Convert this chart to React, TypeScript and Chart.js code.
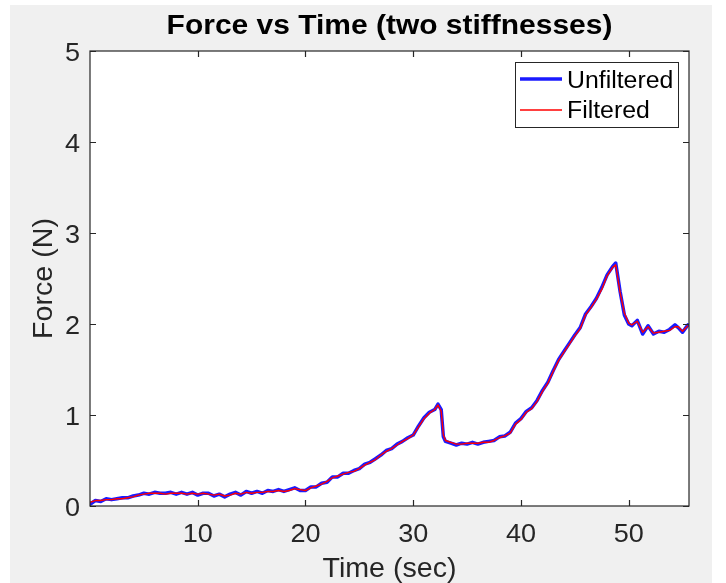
import React, { useEffect, useRef } from "react";
import { Chart, registerables } from "chart.js";

Chart.register(...registerables);

// Sample times (s) and measured force (N)
const timeSec = [
  0, 0.5, 1, 1.5, 2, 2.5, 3, 3.5, 4, 4.5,
  5, 5.5, 6, 6.5, 7, 7.5, 8, 8.5, 9, 9.5,
  10, 10.5, 11, 11.5, 12, 12.5, 13, 13.5, 14, 14.5,
  15, 15.5, 16, 16.5, 17, 17.5, 18, 18.5, 19, 19.5,
  20, 20.5, 21, 21.5, 22, 22.5, 23, 23.5, 24, 24.5,
  25, 25.5, 26, 26.5, 27, 27.5, 28, 28.5, 29, 29.5,
  30, 30.5, 31, 31.5, 32, 32.3, 32.6, 32.8, 33, 33.5,
  34, 34.5, 35, 35.5, 36, 36.5, 37, 37.5, 38, 38.5,
  39, 39.5, 40, 40.5, 41, 41.5, 42, 42.5, 43, 43.5,
  44, 44.5, 45, 45.5, 46, 46.5, 47, 47.5, 48, 48.5,
  48.8, 49.2, 49.6, 50, 50.3, 50.8, 51.3, 51.8, 52.3, 52.8,
  53.3, 53.8, 54.3, 54.6, 55, 55.5,
];

const unfilteredN = [
  0.02, 0.06, 0.05, 0.08, 0.07, 0.08, 0.09, 0.09, 0.11, 0.12,
  0.14, 0.13, 0.15, 0.14, 0.14, 0.15, 0.13, 0.15, 0.13, 0.15,
  0.12, 0.14, 0.14, 0.11, 0.13, 0.10, 0.13, 0.15, 0.12, 0.16,
  0.14, 0.16, 0.14, 0.17, 0.16, 0.18, 0.16, 0.18, 0.20, 0.17,
  0.17, 0.21, 0.21, 0.25, 0.26, 0.32, 0.32, 0.36, 0.36, 0.39,
  0.41, 0.46, 0.48, 0.52, 0.56, 0.61, 0.63, 0.68, 0.71, 0.75,
  0.78, 0.88, 0.97, 1.03, 1.06, 1.12, 1.06, 0.76, 0.71, 0.69,
  0.67, 0.69, 0.68, 0.70, 0.68, 0.70, 0.71, 0.72, 0.76, 0.77,
  0.81, 0.91, 0.96, 1.04, 1.08, 1.16, 1.27, 1.36, 1.49, 1.61,
  1.70, 1.79, 1.88, 1.96, 2.11, 2.19, 2.28, 2.40, 2.54, 2.63,
  2.67, 2.36, 2.10, 2.00, 1.98, 2.04, 1.89, 1.98, 1.89, 1.92,
  1.91, 1.94, 1.99, 1.96, 1.91, 1.99,
];

const filteredN = [
  0.04, 0.06, 0.06, 0.07, 0.07, 0.08, 0.08, 0.09, 0.10, 0.12,
  0.13, 0.14, 0.14, 0.14, 0.13, 0.14, 0.14, 0.14, 0.13, 0.14,
  0.13, 0.14, 0.13, 0.12, 0.13, 0.11, 0.12, 0.14, 0.13, 0.15,
  0.14, 0.15, 0.15, 0.16, 0.16, 0.17, 0.16, 0.17, 0.19, 0.18,
  0.17, 0.20, 0.22, 0.24, 0.27, 0.31, 0.33, 0.35, 0.37, 0.38,
  0.41, 0.45, 0.48, 0.51, 0.56, 0.60, 0.63, 0.67, 0.71, 0.74,
  0.78, 0.87, 0.96, 1.02, 1.06, 1.11, 1.04, 0.78, 0.72, 0.70,
  0.68, 0.68, 0.69, 0.69, 0.69, 0.70, 0.70, 0.72, 0.75, 0.77,
  0.80, 0.90, 0.95, 1.03, 1.07, 1.15, 1.26, 1.35, 1.48, 1.60,
  1.69, 1.78, 1.87, 1.95, 2.10, 2.18, 2.27, 2.38, 2.53, 2.62,
  2.65, 2.35, 2.12, 2.01, 1.99, 2.03, 1.91, 1.97, 1.90, 1.91,
  1.92, 1.93, 1.97, 1.97, 1.92, 1.98,
];

const xTickValues = [10, 20, 30, 40, 50];
const yTickValues = [0, 1, 2, 3, 4, 5];
const xRange = [0, 55.6];
const yRange = [0, 5];

const titleText = "Force vs Time (two stiffnesses)";
const xLabel = "Time (sec)";
const yLabel = "Force (N)";
const seriesNames = ["Unfiltered", "Filtered"];
const seriesColors = ["#1a1aff", "#ff0000"];
const seriesWidths = [3.5, 1.4];

const W = 726;
const H = 583;
const FONT = '"Liberation Sans", Arial, Helvetica, sans-serif';
const INK = "#262626";
const FIG_BG = "#f0f0f0";

function drawText(
  ctx: CanvasRenderingContext2D,
  text: string,
  x: number,
  y: number,
  font: string,
  sx: number,
  align: CanvasTextAlign,
  color: string,
  rotate = 0
) {
  ctx.save();
  ctx.translate(x, y);
  if (rotate) ctx.rotate(rotate);
  ctx.scale(sx, 1);
  ctx.font = font;
  ctx.textAlign = align;
  ctx.textBaseline = "alphabetic";
  ctx.fillStyle = color;
  ctx.fillText(text, 0, 0);
  ctx.restore();
}

const backdrop = {
  id: "backdrop",
  beforeDraw(chart: any) {
    const { ctx, chartArea: a } = chart;
    ctx.save();
    ctx.fillStyle = "#ffffff";
    ctx.fillRect(0, 0, W, H);
    ctx.fillStyle = FIG_BG;
    ctx.fillRect(10, 5, 702, H - 5);
    ctx.fillStyle = "#ffffff";
    ctx.fillRect(a.left, a.top, a.right - a.left, a.bottom - a.top);
    ctx.restore();
  },
};

const frame = {
  id: "frame",
  afterDatasetsDraw(chart: any) {
    const { ctx, chartArea: a, scales } = chart;
    const xs = scales.x;
    const ys = scales.y;
    const tick = 6;

    ctx.save();
    ctx.strokeStyle = INK;
    ctx.lineWidth = 1.2;
    ctx.strokeRect(a.left, a.top, a.right - a.left, a.bottom - a.top);

    ctx.beginPath();
    xTickValues.forEach((v) => {
      const px = Math.round(xs.getPixelForValue(v)) + 0.5;
      ctx.moveTo(px, a.bottom);
      ctx.lineTo(px, a.bottom - tick);
      ctx.moveTo(px, a.top);
      ctx.lineTo(px, a.top + tick);
    });
    yTickValues.forEach((v) => {
      const py = Math.round(ys.getPixelForValue(v)) + 0.5;
      ctx.moveTo(a.left, py);
      ctx.lineTo(a.left + tick, py);
      ctx.moveTo(a.right, py);
      ctx.lineTo(a.right - tick, py);
    });
    ctx.stroke();
    ctx.restore();

    const tickFont = `26px ${FONT}`;
    xTickValues.forEach((v) => {
      drawText(ctx, String(v), xs.getPixelForValue(v), 542, tickFont, 1.04, "center", INK);
    });
    yTickValues.forEach((v) => {
      drawText(ctx, String(v), 80, ys.getPixelForValue(v) + 9.5, tickFont, 1.04, "right", INK);
    });

    const cx = (a.left + a.right) / 2;
    drawText(ctx, titleText, cx, 34, `bold 27px ${FONT}`, 1.11, "center", "#000000");
    drawText(ctx, xLabel, cx, 577, `27px ${FONT}`, 1.06, "center", INK);
    drawText(ctx, yLabel, 52, (a.top + a.bottom) / 2, `27px ${FONT}`, 1.06, "center", INK, -Math.PI / 2);

    // legend box
    ctx.save();
    ctx.fillStyle = "#ffffff";
    ctx.fillRect(515, 62, 163, 65);
    ctx.strokeStyle = INK;
    ctx.lineWidth = 1;
    ctx.strokeRect(515.5, 62.5, 163, 65);
    const rows = [79, 110];
    rows.forEach((ry, i) => {
      ctx.beginPath();
      ctx.strokeStyle = seriesColors[i];
      ctx.lineWidth = seriesWidths[i];
      ctx.moveTo(520, ry);
      ctx.lineTo(562, ry);
      ctx.stroke();
    });
    ctx.restore();
    drawText(ctx, seriesNames[0], 567, 88, `23px ${FONT}`, 1.08, "left", "#000000");
    drawText(ctx, seriesNames[1], 567, 118, `23px ${FONT}`, 1.08, "left", "#000000");
  },
};

export default function App() {
  const canvasRef = useRef<HTMLCanvasElement | null>(null);

  useEffect(() => {
    const canvas = canvasRef.current;
    if (!canvas) return;
    const toPoints = (ys: number[]) => timeSec.map((t, i) => ({ x: t, y: ys[i] }));

    const chart = new Chart(canvas, {
      type: "line",
      data: {
        datasets: [
          {
            label: seriesNames[0],
            data: toPoints(unfilteredN),
            borderColor: seriesColors[0],
            borderWidth: seriesWidths[0],
            borderJoinStyle: "round",
            borderCapStyle: "round",
            pointRadius: 0,
            tension: 0,
            order: 1,
          },
          {
            label: seriesNames[1],
            data: toPoints(filteredN),
            borderColor: seriesColors[1],
            borderWidth: seriesWidths[1],
            borderJoinStyle: "round",
            pointRadius: 0,
            tension: 0,
            order: 0,
          },
        ],
      },
      options: {
        animation: false,
        responsive: false,
        devicePixelRatio: 1,
        layout: { padding: { left: 90, top: 51, right: 37, bottom: 77 } },
        plugins: {
          legend: { display: false },
          tooltip: { enabled: false },
          title: { display: false },
        },
        scales: {
          x: {
            type: "linear",
            min: xRange[0],
            max: xRange[1],
            display: false,
          },
          y: {
            type: "linear",
            min: yRange[0],
            max: yRange[1],
            display: false,
          },
        },
      },
      plugins: [backdrop, frame],
    });

    return () => chart.destroy();
  }, []);

  return (
    <div style={{ position: "absolute", left: 0, top: 0, width: W, height: H }}>
      <canvas ref={canvasRef} width={W} height={H} style={{ width: W, height: H, display: "block" }} />
    </div>
  );
}
